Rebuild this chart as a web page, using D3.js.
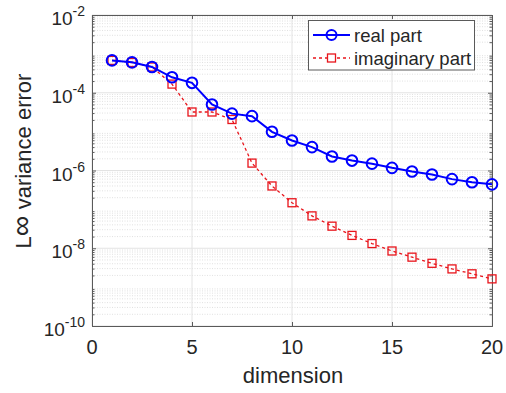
<!DOCTYPE html>
<html>
<head>
<meta charset="utf-8">
<script src="https://cdn.jsdelivr.net/npm/d3@7"></script>
<style>
  html, body { margin: 0; padding: 0; background: #fff; }
  svg { display: block; font-family: Arial, "Liberation Sans", Helvetica, sans-serif; }
</style>
</head>
<body>
<svg id="chart" width="506" height="393"></svg>
<script>
// Dimension index and error values for each series
const dimensions = [1, 2, 3, 4, 5, 6, 7, 8, 9, 10, 11, 12, 13, 14, 15, 16, 17, 18, 19, 20];
const realPart = [6.8e-4, 6.05e-4, 4.6e-4, 2.5e-4, 1.8e-4, 5.0e-5, 2.9e-5, 2.5e-5, 9.9e-6, 5.9e-6,
                  4.0e-6, 2.3e-6, 1.8e-6, 1.5e-6, 1.17e-6, 9.4e-7, 7.9e-7, 6.0e-7, 5.0e-7, 4.4e-7];
const imagPart = [6.8e-4, 6.0e-4, 4.6e-4, 1.67e-4, 3.2e-5, 3.2e-5, 2.05e-5, 1.55e-6, 4.0e-7, 1.48e-7,
                  6.8e-8, 3.7e-8, 2.14e-8, 1.32e-8, 8.5e-9, 5.9e-9, 4.1e-9, 2.94e-9, 2.2e-9, 1.63e-9];
const xTicks = [0, 5, 10, 15, 20];
const yExponents = [-10, -8, -6, -4, -2];
const seriesNames = ["real part", "imaginary part"];

const svg = d3.select("#chart");
const plotLeft = 92, plotRight = 492, plotTop = 15, plotBottom = 326;

const x = d3.scaleLinear().domain([0, 20]).range([plotLeft, plotRight]);
const y = d3.scaleLog().domain([1e-10, 1e-2]).range([plotBottom, plotTop]);

// Minor decade positions (2..9 × 10^k)
const minorVals = [];
for (let k = -10; k < -2; k++) {
  for (let m = 2; m <= 9; m++) minorVals.push(m * Math.pow(10, k));
}
const majorVals = yExponents.map(e => Math.pow(10, e));

// Grid
const grid = svg.append("g");
grid.selectAll("line.minor").data(minorVals).join("line")
  .attr("x1", plotLeft).attr("x2", plotRight)
  .attr("y1", d => y(d)).attr("y2", d => y(d))
  .attr("stroke", "#d9d9d9").attr("stroke-width", 0.8)
  .attr("stroke-dasharray", "1,1.5");
grid.selectAll("line.hmaj").data(majorVals).join("line")
  .attr("x1", plotLeft).attr("x2", plotRight)
  .attr("y1", d => y(d)).attr("y2", d => y(d))
  .attr("stroke", "#e3e3e3").attr("stroke-width", 1);
grid.selectAll("line.vmaj").data(xTicks).join("line")
  .attr("x1", d => x(d)).attr("x2", d => x(d))
  .attr("y1", plotTop).attr("y2", plotBottom)
  .attr("stroke", "#e3e3e3").attr("stroke-width", 1);

// Axes frame with inward ticks
const axisColor = "#5a5a5a";
const xAxisB = d3.axisBottom(x).tickValues(xTicks).tickSize(-4).tickFormat("");
const xAxisT = d3.axisTop(x).tickValues(xTicks).tickSize(-4).tickFormat("");
const yAxisL = d3.axisLeft(y).tickValues(majorVals).tickSize(-4).tickFormat("");
const yAxisR = d3.axisRight(y).tickValues(majorVals).tickSize(-4).tickFormat("");
const yMinorL = d3.axisLeft(y).tickValues(minorVals).tickSize(-2.5).tickFormat("");
const yMinorR = d3.axisRight(y).tickValues(minorVals).tickSize(-2.5).tickFormat("");

function styleAxis(g) {
  g.selectAll("path").attr("stroke", axisColor).attr("stroke-width", 1);
  g.selectAll("line").attr("stroke", axisColor).attr("stroke-width", 1);
}
svg.append("g").attr("transform", `translate(0,${plotBottom})`).call(xAxisB).call(styleAxis);
svg.append("g").attr("transform", `translate(0,${plotTop})`).call(xAxisT).call(styleAxis);
svg.append("g").attr("transform", `translate(${plotLeft},0)`).call(yAxisL).call(styleAxis);
svg.append("g").attr("transform", `translate(${plotRight},0)`).call(yAxisR).call(styleAxis);
svg.append("g").attr("transform", `translate(${plotLeft},0)`).call(yMinorL).call(styleAxis)
  .select("path").remove();
svg.append("g").attr("transform", `translate(${plotRight},0)`).call(yMinorR).call(styleAxis)
  .select("path").remove();

// Tick labels
const labelColor = "#262626";
svg.append("g").selectAll("text").data(xTicks).join("text")
  .attr("x", d => x(d)).attr("y", plotBottom + 28)
  .attr("text-anchor", "middle").attr("font-size", 20).attr("fill", labelColor)
  .text(d => d);

const yl = svg.append("g").selectAll("text").data(yExponents).join("text")
  .attr("x", plotLeft - 7).attr("y", d => y(Math.pow(10, d)) + 10)
  .attr("text-anchor", "end").attr("fill", labelColor);
yl.append("tspan").attr("font-size", 19).text("10");
yl.append("tspan").attr("font-size", 14).attr("dy", -9).text(d => "-" + Math.abs(d));

// Axis titles
svg.append("text")
  .attr("x", (plotLeft + plotRight) / 2 + 1).attr("y", 383)
  .attr("text-anchor", "middle").attr("font-size", 22).attr("fill", labelColor)
  .text("dimension");
const yTitle = svg.append("text")
  .attr("transform", "translate(31,161) rotate(-90)")
  .attr("text-anchor", "middle").attr("font-size", 22).attr("fill", labelColor);
yTitle.append("tspan").text("L");
yTitle.append("tspan").attr("font-size", 29).text("\u221E");
yTitle.append("tspan").text(" variance error");

// Series
const blue = "#0000ff", red = "#e8141b";
const line = d3.line().x((d, i) => x(dimensions[i])).y(d => y(d));

svg.append("path").datum(imagPart).attr("d", line)
  .attr("fill", "none").attr("stroke", red).attr("stroke-width", 1.3)
  .attr("stroke-dasharray", "3,3");
svg.append("g").selectAll("rect").data(imagPart).join("rect")
  .attr("x", (d, i) => x(dimensions[i]) - 4).attr("y", d => y(d) - 4)
  .attr("width", 8).attr("height", 8)
  .attr("fill", "none").attr("stroke", red).attr("stroke-width", 1.3);

svg.append("path").datum(realPart).attr("d", line)
  .attr("fill", "none").attr("stroke", blue).attr("stroke-width", 2);
svg.append("g").selectAll("circle").data(realPart).join("circle")
  .attr("cx", (d, i) => x(dimensions[i])).attr("cy", d => y(d)).attr("r", 5.3)
  .attr("fill", "none").attr("stroke", blue).attr("stroke-width", 2);

// Legend
const lg = svg.append("g");
lg.append("rect").attr("x", 308.5).attr("y", 20.5).attr("width", 166).attr("height", 49.5)
  .attr("fill", "#fff").attr("stroke", axisColor).attr("stroke-width", 1);
// real part entry
lg.append("line").attr("x1", 313).attr("x2", 350).attr("y1", 35).attr("y2", 35)
  .attr("stroke", blue).attr("stroke-width", 2);
lg.append("circle").attr("cx", 331.5).attr("cy", 35).attr("r", 5)
  .attr("fill", "none").attr("stroke", blue).attr("stroke-width", 2);
lg.append("text").attr("x", 354).attr("y", 41.5).attr("font-size", 18.5).attr("fill", labelColor)
  .text(seriesNames[0]);
// imaginary part entry
lg.append("line").attr("x1", 313).attr("x2", 350).attr("y1", 58).attr("y2", 58)
  .attr("stroke", red).attr("stroke-width", 1.3).attr("stroke-dasharray", "3,3");
lg.append("rect").attr("x", 327.5).attr("y", 54).attr("width", 8).attr("height", 8)
  .attr("fill", "#fff").attr("stroke", red).attr("stroke-width", 1.3);
lg.append("text").attr("x", 354).attr("y", 64.5).attr("font-size", 18.5).attr("fill", labelColor)
  .text(seriesNames[1]);
</script>
</body>
</html>
